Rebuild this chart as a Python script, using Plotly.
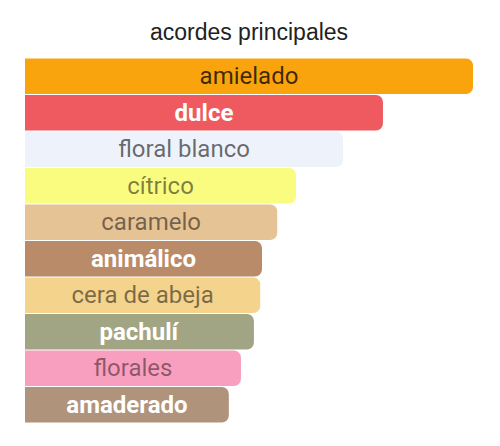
import plotly.graph_objects as go

# main accords, top to bottom
accords = ["amielado", "dulce", "floral blanco", "cítrico", "caramelo",
           "animálico", "cera de abeja", "pachulí", "florales", "amaderado"]
strength = [100, 79.9, 71.0, 60.5, 56.3, 52.9, 52.5, 51.1, 48.2, 45.5]
bar_colors = ["#F9A40C", "#EE5A60", "#EEF3FB", "#FAFC7F", "#E6C395",
              "#B98B69", "#F4D38D", "#A2A584", "#F89EBE", "#B0937B"]
label_colors = ["rgba(0,0,0,0.75)", "#FFFFFF", "rgba(0,0,0,0.58)", "rgba(0,0,0,0.5)",
                "rgba(0,0,0,0.5)", "#FFFFFF", "rgba(0,0,0,0.5)", "#FFFFFF",
                "rgba(0,0,0,0.45)", "#FFFFFF"]
bold = [False, True, False, False, False, True, False, True, False, True]

labels = ["<b>%s</b>" % a if b else a for a, b in zip(accords, bold)]

fig = go.Figure()
fig.add_trace(go.Bar(
    x=strength,
    y=accords,
    orientation="h",
    marker=dict(color=bar_colors, line=dict(width=0)),
    text=labels,
    textposition="inside",
    insidetextanchor="middle",
    textangle=0,
    textfont=dict(family="Roboto", size=24, color=label_colors),
    hoverinfo="skip",
))

# page has an 8px body margin, so offsets are shifted accordingly
fig.update_layout(
    width=500, height=446,
    margin=dict(l=17, r=35, t=50, b=31),
    paper_bgcolor="white", plot_bgcolor="white",
    bargap=0.025,
    barcornerradius=7,
    showlegend=False,
    title=dict(text="acordes principales", x=0.482, xanchor="center",
               y=1 - 24 / 446, yanchor="middle", yref="container",
               font=dict(family="Liberation Sans", size=23, color="#222")),
    xaxis=dict(range=[0, 100], visible=False, fixedrange=True),
    yaxis=dict(autorange="reversed", visible=False, fixedrange=True),
    uniformtext=dict(minsize=24, mode="show"),
)

fig.write_html("out.html")
